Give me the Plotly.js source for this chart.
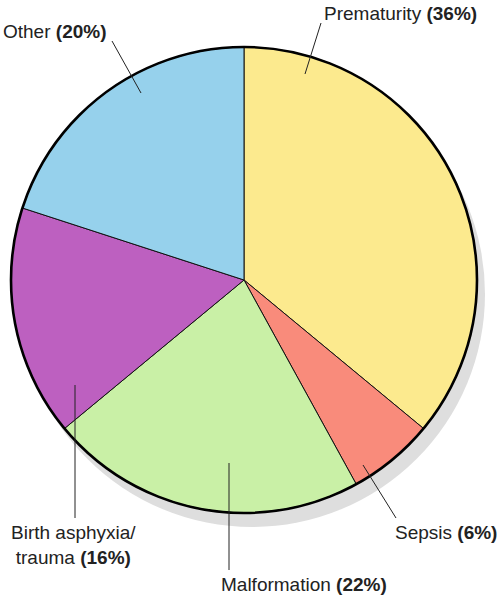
<!DOCTYPE html>
<html>
<head>
<meta charset="utf-8">
<script src="https://cdn.plot.ly/plotly-3.0.1.min.js"></script>
<style>html,body{margin:0;padding:0;background:#fff;} #chart{width:500px;height:595px;}</style>
</head>
<body>
<div id="chart"></div>
<script>
// Data
const causes = ["Prematurity", "Sepsis", "Malformation", "Birth asphyxia/<br>trauma", "Other"];
const shares = [36, 6, 22, 16, 20];
const colors = ["#FCEA8E", "#F98B7B", "#C9F0A6", "#BD60C0", "#96D1EC"];

const W = 500, H = 595;
const px = x => x / W;
const py = y => (H - y) / H;

// Pie geometry (pixels)
const cx = 244, cy = 280, R = 233;
const dom = {x: [px(cx - R), px(cx + R)], y: [py(cy + R), py(cy - R)]};

const trace = {
  type: "pie",
  labels: causes,
  values: shares,
  sort: false,
  direction: "clockwise",
  rotation: 0,
  textinfo: "none",
  hoverinfo: "label+percent",
  marker: {colors: colors, line: {color: "#111", width: 1}},
  domain: dom,
  showlegend: false
};

const sh = {dx: 8, dy: 14};
const shapes = [
  {type: "circle", xref: "paper", yref: "paper", layer: "below",
   x0: px(cx - R + sh.dx), x1: px(cx + R + sh.dx), y0: py(cy + R + sh.dy), y1: py(cy - R + sh.dy),
   fillcolor: "#DEDEDE", line: {width: 0}},
  {type: "circle", xref: "paper", yref: "paper", layer: "above",
   x0: dom.x[0], x1: dom.x[1], y0: dom.y[0], y1: dom.y[1],
   line: {color: "#000", width: 2.6}}
];

// Leader lines (pixel endpoints)
const leaders = [
  [321, 23, 305, 74],
  [363, 465, 396, 518],
  [229, 463, 229, 570],
  [75, 385, 75, 518],
  [112, 41, 141, 93]
];
leaders.forEach(l => shapes.push({type: "line", xref: "paper", yref: "paper", layer: "above",
  x0: px(l[0]), y0: py(l[1]), x1: px(l[2]), y1: py(l[3]), line: {color: "#222", width: 1}}));

const fnt = {family: "Liberation Sans, Arial, sans-serif", size: 19, color: "#222"};
const lbl = (i) => causes[i] + " <b>(" + shares[i] + "%)</b>";
const annotations = [
  {text: lbl(0), x: px(479), y: py(13), xanchor: "right", yanchor: "middle"},
  {text: lbl(1), x: px(499), y: py(532), xanchor: "right", yanchor: "middle"},
  {text: lbl(2), x: px(389), y: py(584), xanchor: "right", yanchor: "middle"},
  {text: lbl(3), x: px(73), y: py(545), xanchor: "center", yanchor: "middle", align: "center"},
  {text: lbl(4), x: px(1), y: py(31), xanchor: "left", yanchor: "middle"}
].map(a => Object.assign({xref: "paper", yref: "paper", showarrow: false, font: fnt}, a));

const layout = {
  width: W, height: H,
  margin: {l: 0, r: 0, t: 0, b: 0},
  paper_bgcolor: "#fff",
  shapes: shapes,
  annotations: annotations
};

Plotly.newPlot("chart", [trace], layout, {displayModeBar: false, staticPlot: true});
</script>
</body>
</html>
